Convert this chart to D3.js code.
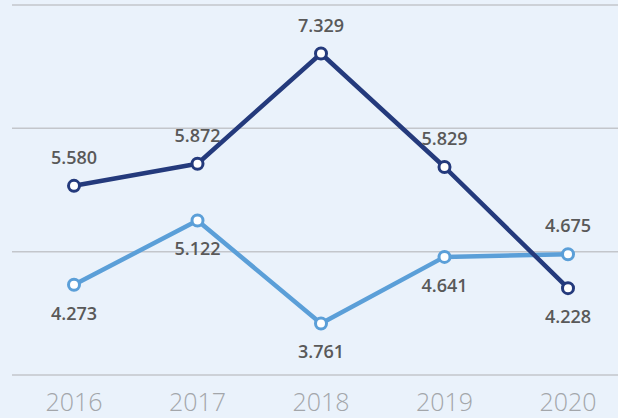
<!DOCTYPE html>
<html>
<head>
<meta charset="utf-8">
<script src="https://cdn.jsdelivr.net/npm/d3@7"></script>
<style>
  html, body { margin: 0; padding: 0; background: #eaf2fb; }
  svg { display: block; font-family: "Open Sans", sans-serif; }
</style>
</head>
<body>
<svg id="chart" width="618" height="418"></svg>
<script>
// Chart data
var years = ['2016', '2017', '2018', '2019', '2020'];
var darkValues = [5.580, 5.872, 7.329, 5.829, 4.228];
var lightValues = [4.273, 5.122, 3.761, 4.641, 4.675];
// label above (-1) or below (1) the point
var darkLabelSide = [-1, -1, -1, -1, 1];
var lightLabelSide = [1, 1, 1, 1, -1];
var gridValues = [3.08, 4.71, 6.34, 7.97];

var width = 618, height = 418;
var svg = d3.select('#chart');

svg.append('rect').attr('width', width).attr('height', height).attr('fill', '#eaf2fb');

// Scales
var x = d3.scalePoint().domain(years).range([74, 568]);
var y = d3.scaleLinear().domain([3.08, 7.97]).range([375, 5]);

// Grid lines
svg.append('g')
  .selectAll('line')
  .data(gridValues)
  .enter()
  .append('line')
  .attr('x1', 12)
  .attr('x2', width)
  .attr('y1', function (d) { return y(d); })
  .attr('y2', function (d) { return y(d); })
  .attr('stroke', '#c3c6cb')
  .attr('stroke-width', 1.5);

// Year labels along the bottom
svg.append('g')
  .selectAll('text')
  .data(years)
  .enter()
  .append('text')
  .attr('x', function (d) { return x(d); })
  .attr('y', 411)
  .attr('text-anchor', 'middle')
  .attr('font-size', '25px')
  .attr('font-weight', 300)
  .attr('fill', '#a3a6aa')
  .text(function (d) { return d; });

// Draw one series: line, markers, labels
function drawSeries(values, sides, color) {
  var line = d3.line()
    .x(function (d, i) { return x(years[i]); })
    .y(function (d) { return y(d); });

  var g = svg.append('g');

  g.append('path')
    .datum(values)
    .attr('d', line)
    .attr('fill', 'none')
    .attr('stroke', color)
    .attr('stroke-width', 4.5)
    .attr('stroke-linejoin', 'round');

  g.selectAll('circle')
    .data(values)
    .enter()
    .append('circle')
    .attr('cx', function (d, i) { return x(years[i]); })
    .attr('cy', function (d) { return y(d); })
    .attr('r', 5.5)
    .attr('fill', '#ffffff')
    .attr('stroke', color)
    .attr('stroke-width', 3);

  g.selectAll('text')
    .data(values)
    .enter()
    .append('text')
    .attr('x', function (d, i) { return x(years[i]); })
    .attr('y', function (d, i) { return y(d) + (sides[i] < 0 ? -22 : 35); })
    .attr('text-anchor', 'middle')
    .attr('font-size', '18px')
    .attr('font-weight', 600)
    .attr('fill', '#595959')
    .text(function (d) { return d3.format('.3f')(d); });
}

drawSeries(lightValues, lightLabelSide, '#5b9fd8');
drawSeries(darkValues, darkLabelSide, '#243a7c');
</script>
</body>
</html>
